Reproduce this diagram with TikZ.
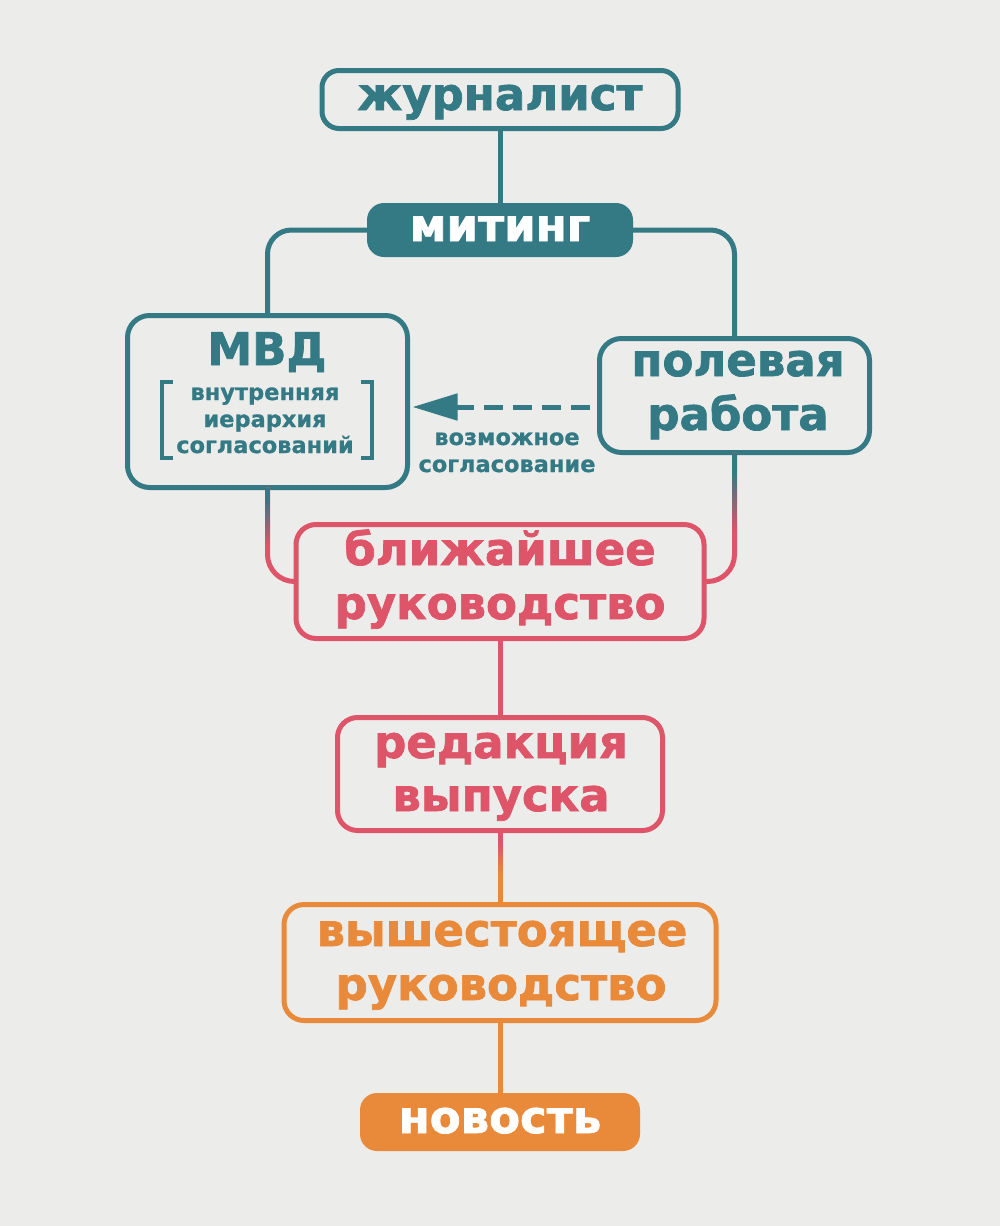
\documentclass[tikz,border=0pt]{standalone}
\usepackage{fontspec}
\setmainfont{DejaVu Sans}[BoldFeatures={FakeBold=1.6}]
\newfontfamily\smallfont{DejaVu Sans}[BoldFeatures={FakeBold=0.8}]
\usetikzlibrary{arrows.meta,calc}
\definecolor{bgc}{HTML}{ECECEB}
\definecolor{tealc}{HTML}{347A85}
\definecolor{pinkc}{HTML}{DE5468}
\definecolor{orangec}{HTML}{E98A3B}
\begin{document}
\begin{tikzpicture}[x=1pt,y=-1pt,
  box/.style={draw, line width=5pt, rounded corners=17pt, inner sep=0pt, outer sep=0pt},
  fbox/.style={rounded corners=17pt, inner sep=0pt, outer sep=0pt},
  big/.style={font=\fontsize{45}{54}\selectfont\bfseries, anchor=base, inner sep=0pt},
  small/.style={font=\smallfont\fontsize{22.5}{27}\selectfont\bfseries, anchor=base, inner sep=0pt, text=tealc},
  conn/.style={line width=5pt},
]
\fill[bgc] (0,0) rectangle (1000,1226);
\useasboundingbox (0,0) rectangle (1000,1226);

% boxes
\node[box, draw=tealc, minimum width=356pt, minimum height=58pt] (jour) at (500,99.5) {};
\node[fbox, fill=tealc, minimum width=266pt, minimum height=54pt] (mit) at (500,230) {};
\node[box, draw=tealc, rounded corners=22pt, minimum width=280pt, minimum height=172pt] (mvd) at (267.5,401.5) {};
\node[box, draw=tealc, rounded corners=22pt, minimum width=270pt, minimum height=114pt] (pole) at (734.5,395.5) {};
\node[box, draw=pinkc, rounded corners=20pt, minimum width=408pt, minimum height=114pt] (blizh) at (500,581.5) {};
\node[box, draw=pinkc, rounded corners=20pt, minimum width=325pt, minimum height=113pt] (red) at (500,774) {};
\node[box, draw=orangec, rounded corners=20pt, minimum width=432pt, minimum height=116pt] (vysh) at (500,962.5) {};
\node[fbox, fill=orangec, minimum width=280pt, minimum height=58pt] (nov) at (500,1122) {};

% texts
\node[big, text=tealc] (tjour) at (500,110) {журналист};
\node[big, text=white] (tmit) at (500,241) {митинг};
\node[big, text=tealc] (tmvd) at (267,365) {МВД};
\node[small] (tmvd1) at (265,400) {внутренняя};
\node[small] (tmvd2) at (265,427) {иерархия};
\node[small] (tmvd3) at (265,453) {согласований};
\node[big, text=tealc] (tpole1) at (738,376) {полевая};
\node[big, text=tealc] (tpole2) at (738,430) {работа};
\node[big, text=pinkc] (tbl1) at (500,565) {ближайшее};
\node[big, text=pinkc] (tbl2) at (500,619) {руководство};
\node[big, text=pinkc] (tred1) at (501,758) {редакция};
\node[big, text=pinkc] (tred2) at (501,811) {выпуска};
\node[big, text=orangec] (tvy1) at (502,946) {вышестоящее};
\node[big, text=orangec] (tvy2) at (501,1000) {руководство};
\node[big, text=white] (tnov) at (500,1133) {новость};
\node[small] (lab1) at (507,445) {возможное};
\node[small] (lab2) at (507,472) {согласование};

% brackets
\draw[tealc, line width=4pt] (173,382) -- (162,382) -- (162,458) -- (173,458);
\draw[tealc, line width=4pt] (361,382) -- (372,382) -- (372,458) -- (361,458);

% connectors
\draw[conn, tealc] (jour.south) -- (mit.north);
\draw[conn, tealc, rounded corners=24pt] (mit.west) -| (mvd.north);
\draw[conn, tealc, rounded corners=24pt] (mit.east) -| (pole.north);
\draw[conn, pinkc, rounded corners=27pt] (mvd.south) |- (blizh.west);
\draw[conn, pinkc, rounded corners=27pt] (pole.south) |- (blizh.east);
\draw[conn, pinkc] (blizh.south) -- (red.north);
\draw[conn, orangec] (red.south) -- (vysh.north);
\draw[conn, orangec] (vysh.south) -- (nov.north);

% colour transitions on connectors (stepwise blend)
\draw[conn, tealc] (mvd.south) -- ++(0,12);
\foreach \i in {0,...,19}{
  \pgfmathtruncatemacro{\p}{5*\i}
  \draw[conn, color=pinkc!\p!tealc] ($(mvd.south)+(0,12+2.2*\i)$) -- ++(0,2.6);
}
\draw[conn, tealc] (pole.south) -- ++(0,18);
\foreach \i in {0,...,19}{
  \pgfmathtruncatemacro{\p}{5*\i}
  \draw[conn, color=pinkc!\p!tealc] ($(pole.south)+(0,18+3*\i)$) -- ++(0,3.4);
}
\draw[conn, pinkc] (red.south) -- ++(0,12);
\foreach \i in {0,...,19}{
  \pgfmathtruncatemacro{\p}{5*\i}
  \draw[conn, color=orangec!\p!pinkc] ($(red.south)+(0,12+1.6*\i)$) -- ++(0,2);
}

% dashed arrow
\coordinate (astart) at ($(pole.west |- 0,407)+(-10,0)$);
\coordinate (aend) at ($(mvd.east |- 0,407)+(5,0)$);
\draw[tealc, line width=5pt, dash pattern=on 19pt off 10pt,
  -{Triangle[length=45pt,width=26pt]}] (astart) -- (aend);
\end{tikzpicture}
\end{document}
